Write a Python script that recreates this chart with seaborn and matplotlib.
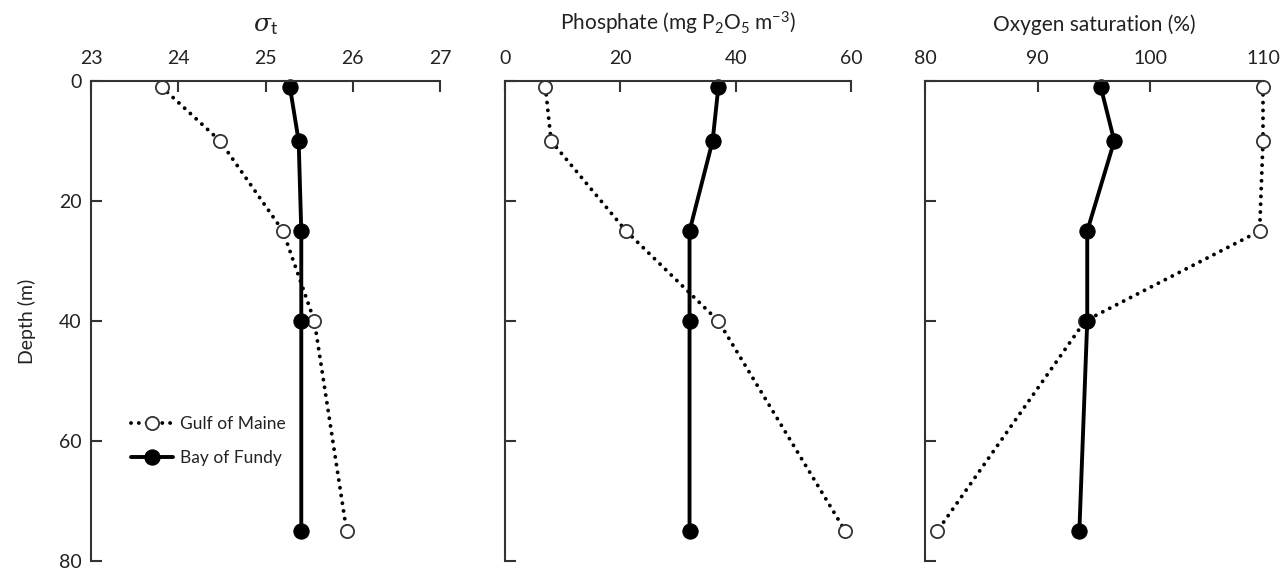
import numpy as np
import pandas as pd
import matplotlib
matplotlib.use("Agg")
import matplotlib.pyplot as plt
import seaborn as sns

# ==========================================================
# Data
# ==========================================================

depth = [1, 10, 25, 40, 75]

sigma_gulf = [23.81, 24.48, 25.20, 25.56, 25.93]
sigma_fundy = [25.28, 25.38, 25.41, 25.41, 25.41]

phos_gulf = [7, 8, 21, 37, 59]
phos_fundy = [37, 36, 32, 32, 32]

oxy_gulf = [110, 110, 109.7, 94.2, 81.1]
oxy_fundy = [95.6, 96.8, 94.4, 94.4, 93.7]

titles = [r"$\sigma_{\rm t}$",
          r"Phosphate (mg P$_2$O$_5$ m$^{-3}$)",
          "Oxygen saturation (%)"]
title_sizes = [18, 15, 15]
xlims = [(23, 27), (0, 60), (80, 110)]
xticks = [[23, 24, 25, 26, 27], [0, 20, 40, 60], [80, 90, 100, 110]]
yticks = [0, 20, 40, 60, 80]

# ==========================================================
# Style
# ==========================================================

sns.set_style("ticks")
plt.rcParams['font.family'] = ['Lato', 'DejaVu Sans']
plt.rcParams['mathtext.fontset'] = 'custom'
plt.rcParams['mathtext.rm'] = 'Lato'
plt.rcParams['mathtext.it'] = 'DejaVu Serif:italic'
plt.rcParams['mathtext.bf'] = 'Lato:bold'

ink = '#222222'

fig = plt.figure(figsize=(12.87, 5.71), dpi=100)
boxes = [(91, 440), (505, 851), (925, 1263)]
top_px, bot_px = 81, 561
W, H = 1287, 571

panels = [(sigma_gulf, sigma_fundy), (phos_gulf, phos_fundy), (oxy_gulf, oxy_fundy)]

for i, (gulf, fundy) in enumerate(panels):
    l, r = boxes[i]
    ax = fig.add_axes([l / W, (H - bot_px) / H, (r - l) / W, (bot_px - top_px) / H])

    sns.lineplot(x=gulf, y=depth, orient='y', sort=False, ax=ax,
                 color='black', linewidth=2.8,
                 linestyle=(0, (0.01, 2.0)), dash_capstyle='round',
                 marker='o', markersize=9.5, markerfacecolor='white',
                 markeredgecolor='#333333', markeredgewidth=1.3,
                 label='Gulf of Maine', legend=False)
    sns.lineplot(x=fundy, y=depth, orient='y', sort=False, ax=ax,
                 color='black', linewidth=2.8,
                 marker='o', markersize=11, markerfacecolor='black',
                 markeredgecolor='black',
                 label='Bay of Fundy', legend=False)

    ax.set_xlim(*xlims[i])
    ax.set_ylim(80, 0)
    ax.set_xticks(xticks[i])
    ax.set_yticks(yticks)
    ax.xaxis.tick_top()
    ax.xaxis.set_label_position('top')
    ax.set_xlabel(titles[i], fontsize=title_sizes[i], color=ink, labelpad=14)

    for s in ['right', 'bottom']:
        ax.spines[s].set_visible(False)
    for s in ['top', 'left']:
        ax.spines[s].set_linewidth(1.5)
        ax.spines[s].set_color('#333333')
    ax.tick_params(axis='both', direction='in', length=8, width=1.5,
                   color='#333333', labelsize=14, labelcolor=ink)
    ax.tick_params(axis='x', pad=10)
    ax.tick_params(axis='y', pad=7)

    if i == 0:
        ax.set_ylabel('Depth (m)', fontsize=14, color=ink, labelpad=16)
        leg = ax.legend(loc='center left', bbox_to_anchor=(0.07, 0.25),
                        frameon=False, fontsize=12.5, handlelength=2.4,
                        labelspacing=1.0, handletextpad=0.4)
        for t in leg.get_texts():
            t.set_color(ink)
    else:
        ax.set_yticklabels([])
        ax.set_ylabel('')
    for ln in ax.get_lines():
        ln.set_clip_on(False)

fig.savefig('out.png', dpi=100)
